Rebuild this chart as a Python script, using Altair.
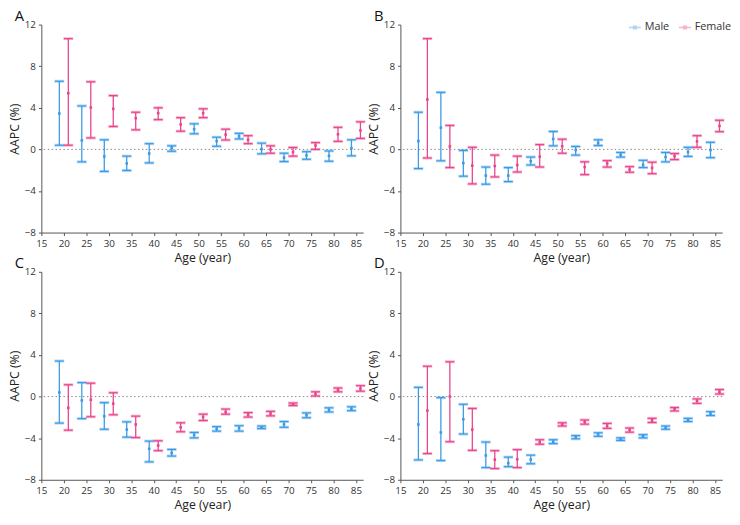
import altair as alt
import pandas as pd

ages = [20, 25, 30, 35, 40, 45, 50, 55, 60, 65, 70, 75, 80, 85]
sexes = ["Male", "Female"]
panels = ["A", "B", "C", "D"]

A_male_est = [3.45, 0.86, -0.68, -1.35, -0.4, 0.15, 1.94, 0.8, 1.26, 0.03, -0.8, -0.58, -0.62, 0.12]
A_male_lo = [0.4, -1.2, -2.12, -2.03, -1.3, -0.18, 1.5, 0.3, 1.0, -0.43, -1.17, -0.95, -1.14, -0.62]
A_male_hi = [6.55, 4.18, 0.92, -0.65, 0.55, 0.34, 2.46, 1.17, 1.54, 0.6, -0.37, -0.22, -0.15, 0.92]
A_female_est = [5.4, 4.03, 3.9, 3.0, 3.48, 2.4, 3.48, 1.42, 0.92, 0.0, -0.25, 0.37, 1.45, 1.82]
A_female_lo = [0.4, 1.1, 2.2, 1.88, 2.86, 1.75, 3.05, 0.9, 0.55, -0.37, -0.65, 0.0, 0.77, 1.05]
A_female_hi = [10.65, 6.5, 5.17, 3.57, 4.0, 3.05, 3.9, 1.94, 1.32, 0.34, 0.18, 0.65, 2.12, 2.65]

B_male_est = [0.8, 2.09, -1.32, -2.52, -2.52, -1.14, 1.0, -0.06, 0.62, -0.52, -1.48, -0.74, -0.25, -0.06]
B_male_lo = [-1.85, -1.1, -2.58, -3.35, -3.1, -1.5, 0.34, -0.55, 0.37, -0.74, -1.75, -1.2, -0.68, -0.8]
B_male_hi = [3.57, 5.48, -0.1, -1.7, -1.75, -0.74, 1.72, 0.28, 0.92, -0.3, -1.05, -0.3, 0.2, 0.68]
B_female_est = [4.8, 0.28, -1.57, -1.6, -1.5, -0.7, 0.3, -1.7, -1.35, -1.94, -1.78, -0.65, 0.77, 2.25]
B_female_lo = [-0.83, -1.75, -3.32, -2.65, -2.18, -1.7, -0.37, -2.43, -1.7, -2.2, -2.34, -0.98, 0.2, 1.7]
B_female_hi = [10.65, 2.3, 0.2, -0.55, -0.65, 0.46, 0.98, -1.2, -1.08, -1.66, -1.23, -0.4, 1.32, 2.8]

C_male_est = [0.4, -0.37, -1.88, -3.17, -5.02, -5.42, -3.69, -3.1, -3.05, -2.95, -2.68, -1.78, -1.29, -1.17]
C_male_lo = [-2.55, -2.12, -3.14, -3.9, -6.28, -5.72, -3.97, -3.32, -3.32, -3.08, -2.95, -2.03, -1.48, -1.35]
C_male_hi = [3.42, 1.35, -0.58, -2.43, -4.28, -5.08, -3.45, -2.89, -2.8, -2.83, -2.4, -1.57, -1.08, -0.98]
C_female_est = [-1.08, -0.3, -0.68, -2.68, -4.7, -2.95, -1.97, -1.48, -1.75, -1.63, -0.74, 0.28, 0.65, 0.77]
C_female_lo = [-3.23, -1.94, -1.75, -3.94, -5.2, -3.38, -2.3, -1.69, -1.97, -1.85, -0.86, 0.06, 0.46, 0.52]
C_female_hi = [1.14, 1.29, 0.37, -1.88, -4.25, -2.52, -1.69, -1.2, -1.54, -1.42, -0.62, 0.46, 0.83, 1.05]

D_male_est = [-2.68, -3.45, -2.18, -5.66, -6.4, -6.06, -4.34, -3.9, -3.63, -4.09, -3.82, -2.98, -2.25, -1.63]
D_male_lo = [-6.09, -6.15, -3.6, -6.83, -6.74, -6.46, -4.52, -4.06, -3.82, -4.22, -3.97, -3.14, -2.4, -1.82]
D_male_hi = [0.89, -0.1, -0.74, -4.37, -5.82, -5.63, -4.15, -3.75, -3.48, -3.97, -3.66, -2.83, -2.09, -1.45]
D_female_est = [-1.35, 0.0, -3.17, -6.06, -6.03, -4.37, -2.68, -2.43, -2.8, -3.2, -2.28, -1.2, -0.4, 0.46]
D_female_lo = [-5.48, -4.34, -5.17, -6.92, -6.83, -4.58, -2.83, -2.65, -3.05, -3.42, -2.49, -1.38, -0.65, 0.25]
D_female_hi = [2.92, 3.35, -1.14, -5.2, -5.1, -4.15, -2.52, -2.25, -2.58, -3.02, -2.09, -1.05, -0.22, 0.68]

x_ticks = [15, 20, 25, 30, 35, 40, 45, 50, 55, 60, 65, 70, 75, 80, 85]
y_ticks = [-8, -4, 0, 4, 8, 12]

series = {
    ("A", "Male"): (A_male_est, A_male_lo, A_male_hi),
    ("A", "Female"): (A_female_est, A_female_lo, A_female_hi),
    ("B", "Male"): (B_male_est, B_male_lo, B_male_hi),
    ("B", "Female"): (B_female_est, B_female_lo, B_female_hi),
    ("C", "Male"): (C_male_est, C_male_lo, C_male_hi),
    ("C", "Female"): (C_female_est, C_female_lo, C_female_hi),
    ("D", "Male"): (D_male_est, D_male_lo, D_male_hi),
    ("D", "Female"): (D_female_est, D_female_lo, D_female_hi),
}

rows = []
for (p, s), (est, lo, hi) in series.items():
    for a, e, l, h in zip(ages, est, lo, hi):
        rows.append({"panel": p, "sex": s, "age": a, "est": e, "lo": l, "hi": h})
df = pd.DataFrame(rows)
zero_df = pd.DataFrame({"v": [0]})

BLUE = "#3b9ae6"
PINK = "#e8458b"
FONT = "Open Sans"
W = 328
H = 212

x_scale = alt.Scale(domain=[15, 86.6], nice=False, zero=False)
y_scale = alt.Scale(domain=[-8, 12], nice=False, zero=False)
color_scale = alt.Scale(domain=sexes, range=[BLUE, PINK])


def panel(letter, with_legend):
    base = alt.Chart(df).transform_filter(
        alt.datum.panel == letter
    ).transform_calculate(
        xpos="datum.age + (datum.sex == 'Male' ? -1 : 1)"
    )
    x = alt.X("xpos:Q", scale=x_scale,
              axis=alt.Axis(values=x_ticks, title="Age (year)"))
    if with_legend:
        leg = alt.Legend(orient="none", legendX=W - 96, legendY=-4,
                         direction="horizontal", title=None,
                         symbolType="M-1,0H1M-0.22,-0.22H0.22V0.22H-0.22Z",
                         symbolSize=150, symbolStrokeWidth=1.5,
                         labelFontSize=11, labelFont=FONT, labelColor="#333",
                         columnPadding=6, labelOffset=3)
    else:
        leg = None

    def col():
        return alt.Color("sex:N", scale=color_scale, legend=leg)

    zero = alt.Chart(zero_df).mark_rule(
        color="#888", strokeDash=[1.5, 2.5], strokeWidth=1
    ).encode(y=alt.Y("v:Q", scale=y_scale))

    bars = base.mark_rule(strokeWidth=1.3).encode(
        x=x,
        y=alt.Y("lo:Q", scale=y_scale,
                axis=alt.Axis(values=y_ticks, title="AAPC (%)")),
        y2="hi:Q",
        color=col(),
    )
    cap_lo_w = base.mark_tick(orient="horizontal", size=10, thickness=3, opacity=0.4).encode(
        x=x, y=alt.Y("lo:Q", scale=y_scale), color=col())
    cap_hi_w = base.mark_tick(orient="horizontal", size=10, thickness=3, opacity=0.4).encode(
        x=x, y=alt.Y("hi:Q", scale=y_scale), color=col())
    cap_lo = base.mark_tick(orient="horizontal", size=9, thickness=1.2, opacity=1).encode(
        x=x, y=alt.Y("lo:Q", scale=y_scale), color=col())
    cap_hi = base.mark_tick(orient="horizontal", size=9, thickness=1.2, opacity=1).encode(
        x=x, y=alt.Y("hi:Q", scale=y_scale), color=col())
    pts = base.mark_square(size=7, opacity=1).encode(
        x=x, y=alt.Y("est:Q", scale=y_scale), color=col())

    return alt.layer(zero, bars, cap_lo_w, cap_hi_w, cap_lo, cap_hi, pts).properties(
        width=W, height=H,
        title=alt.TitleParams(letter, anchor="start", frame="group", dx=-27,
                              fontSize=15, fontWeight="normal", font=FONT,
                              color="#111", offset=-4),
    )


chart = alt.concat(
    panel("A", False), panel("B", True), panel("C", False), panel("D", False),
    columns=2, spacing={"row": 40, "column": 38}, bounds="flush",
).resolve_legend(color="independent").properties(
    padding={"top": -4, "left": 0, "right": 0, "bottom": 0}
).configure_view(
    stroke=None
).configure_axis(
    grid=False, domainColor="#555", tickColor="#555", tickSize=3,
    labelColor="#333", labelFontSize=10, labelFont=FONT,
    titleColor="#222", titleFontSize=12.5, titleFontWeight="normal", titleFont=FONT,
    labelPadding=3, titlePadding=3,
).configure_axisX(labelFlush=False)

chart.save("out.html", embed_options={"renderer": "svg", "actions": False})
